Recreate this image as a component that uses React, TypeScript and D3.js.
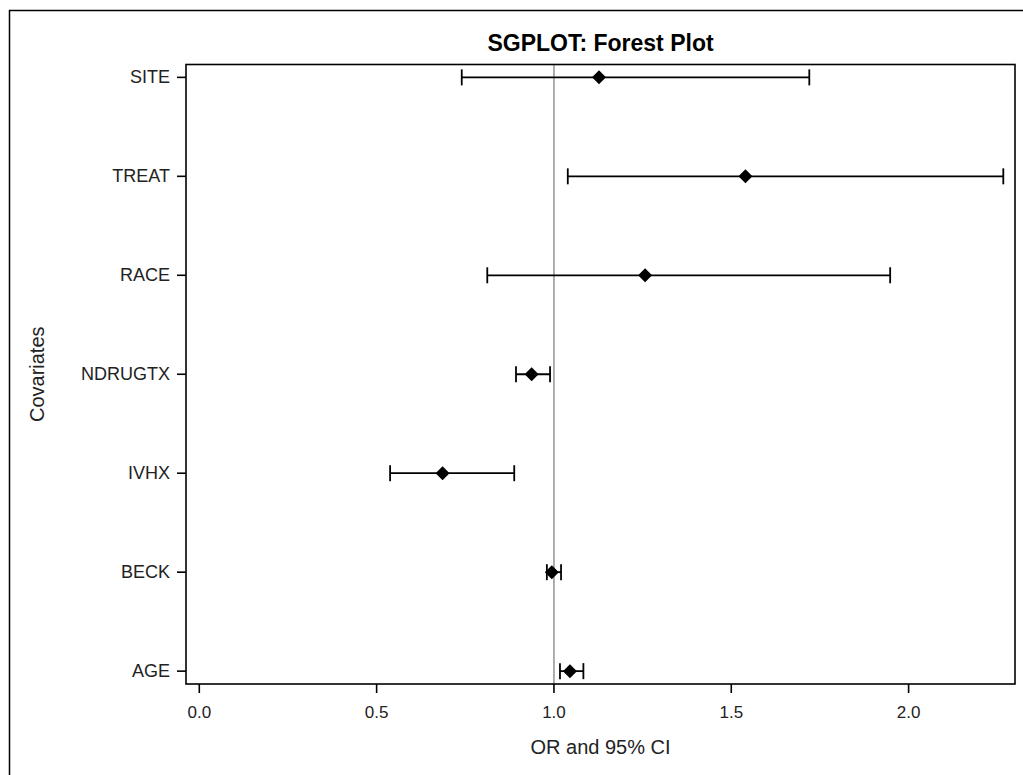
import React from 'react';
import * as d3 from 'd3';

// covariates listed top to bottom
const covariates = ['SITE', 'TREAT', 'RACE', 'NDRUGTX', 'IVHX', 'BECK', 'AGE'];
const oddsRatio = [1.127, 1.54, 1.257, 0.937, 0.686, 0.994, 1.045];
const lowerCI = [0.74, 1.039, 0.812, 0.893, 0.538, 0.98, 1.017];
const upperCI = [1.72, 2.267, 1.948, 0.989, 0.888, 1.02, 1.083];
const xTicks = [0.0, 0.5, 1.0, 1.5, 2.0];
const refLine = 1.0;

const W = 1023, H = 775;
const plot = { left: 186, right: 1015, top: 64.5, bottom: 684 };
const font = '"Liberation Sans", Arial, sans-serif';

const App = () => {
  const x = d3.scaleLinear().domain([-0.0375, 2.3]).range([plot.left, plot.right]);
  const y = d3.scalePoint<string>().domain(covariates)
    .range([plot.top, plot.bottom]).padding(0.13);

  const diamond = d3.symbol().type(d3.symbolSquare).size(98)();

  return (
    <svg width={W} height={H} style={{ position: 'absolute', left: 0, top: 0, background: 'white' }}>
      <rect x={9.5} y={10.5} width={W + 20} height={H + 20} fill="white" stroke="#000" strokeWidth={1.5} />

      <text x={(plot.left + plot.right) / 2} y={51} textAnchor="middle" fontFamily={font}
        fontWeight="bold" fontSize={23} fill="#000">SGPLOT: Forest Plot</text>

      {/* reference line */}
      <line x1={x(refLine)} x2={x(refLine)} y1={plot.top} y2={plot.bottom} stroke="#9a9a9a" strokeWidth={1.6} />

      {covariates.map((c, i) => {
        const cy = y(c)!;
        return (
          <g key={c} stroke="#000" strokeWidth={1.8}>
            <line x1={x(lowerCI[i])} x2={x(upperCI[i])} y1={cy} y2={cy} />
            <line x1={x(lowerCI[i])} x2={x(lowerCI[i])} y1={cy - 8} y2={cy + 8} />
            <line x1={x(upperCI[i])} x2={x(upperCI[i])} y1={cy - 8} y2={cy + 8} />
            <path d={diamond!} transform={`translate(${x(oddsRatio[i])},${cy}) rotate(45)`} fill="#000" stroke="none" />
          </g>
        );
      })}

      <rect x={plot.left} y={plot.top} width={plot.right - plot.left} height={plot.bottom - plot.top}
        fill="none" stroke="#000" strokeWidth={1.6} />

      {/* y axis */}
      {covariates.map(c => (
        <g key={c}>
          <line x1={plot.left - 9} x2={plot.left} y1={y(c)} y2={y(c)} stroke="#000" strokeWidth={1.6} />
          <text x={plot.left - 16} y={y(c)! + 6} textAnchor="end" fontFamily={font} fontSize={18} fill="#222">{c}</text>
        </g>
      ))}
      <text transform={`translate(44,${(plot.top + plot.bottom) / 2}) rotate(-90)`} textAnchor="middle"
        fontFamily={font} fontSize={20} fill="#222">Covariates</text>

      {/* x axis */}
      {xTicks.map(t => (
        <g key={t}>
          <line x1={x(t)} x2={x(t)} y1={plot.bottom} y2={plot.bottom + 9} stroke="#000" strokeWidth={1.6} />
          <text x={x(t)} y={718} textAnchor="middle" fontFamily={font} fontSize={17} fill="#222">{d3.format('.1f')(t)}</text>
        </g>
      ))}
      <text x={(plot.left + plot.right) / 2} y={754} textAnchor="middle" fontFamily={font} fontSize={20} fill="#222">OR and 95% CI</text>
    </svg>
  );
};

export default App;
